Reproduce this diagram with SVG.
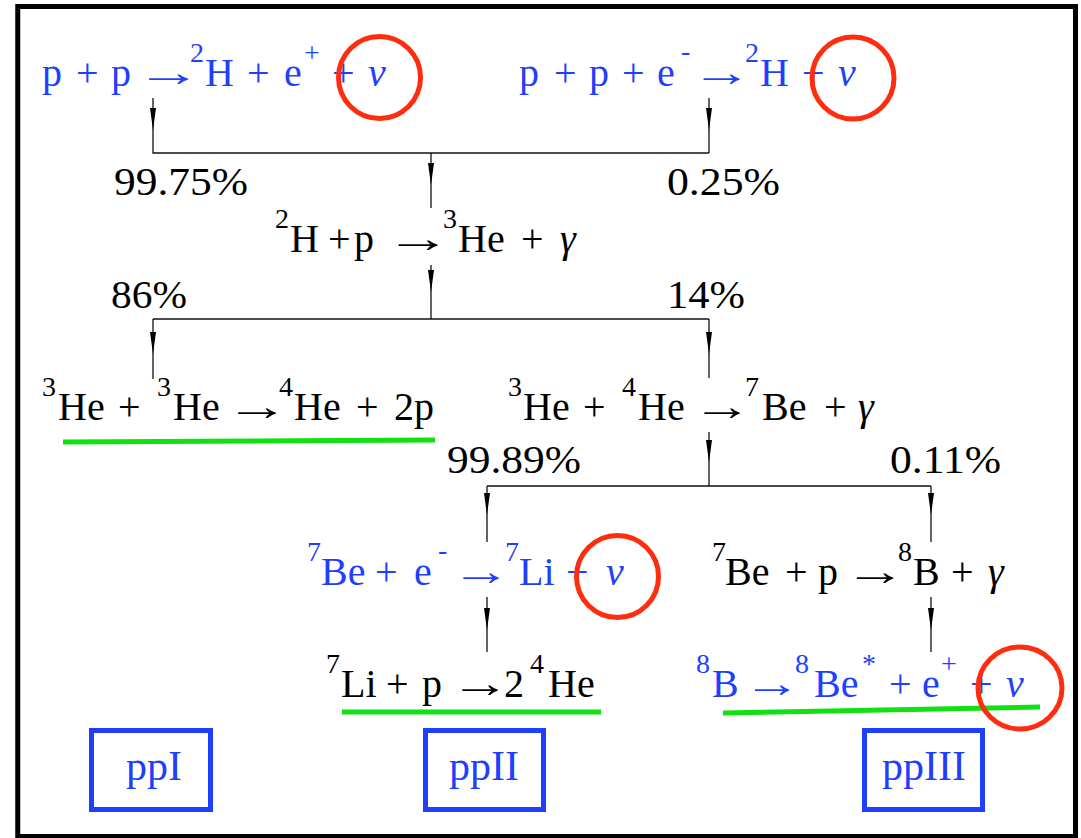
<svg xmlns="http://www.w3.org/2000/svg" width="1081" height="838" viewBox="0 0 1081 838">
<style>
.eq{font-family:"Liberation Serif","Times New Roman",serif;font-size:40px}
.s{font-size:28px}
.i{font-style:italic}
.b{fill:#1f3fff}
.k{fill:#000}
.ln{stroke:#111;stroke-width:1.3;fill:none}
.ah{fill:#000}
.nu{fill:none;stroke:#ff2d0f;stroke-width:5}
.ul{stroke:#11e011;stroke-width:5;fill:none}
.box{fill:none;stroke:#1f3fff;stroke-width:5}
.bt{font-family:"Liberation Serif","Times New Roman",serif;font-size:42px;fill:#1f3fff;text-anchor:middle}
</style>
<defs>
<path id="ah" d="M-3,-22 L3,-22 L0,0 Z"/>
</defs>
<rect x="17.75" y="6.5" width="1057.75" height="830" fill="#fff" stroke="#000" stroke-width="5"/>

<g id="connectors">
<path class="ln" d="M153,98 V153 H709 M709,98 V153 M431,153 V208 M431,265 V319 M153,319 H709 M153,319 V379 M709,319 V378 M709,432 V486 M487,486 H931 M487,486 V542 M931,486 V542 M487,597 V652 M931,597 V652"/>
<use href="#ah" class="ah" x="153" y="130"/>
<use href="#ah" class="ah" x="709" y="130"/>
<use href="#ah" class="ah" x="431" y="185"/>
<use href="#ah" class="ah" x="431" y="292"/>
<use href="#ah" class="ah" x="153" y="354"/>
<use href="#ah" class="ah" x="709" y="354"/>
<use href="#ah" class="ah" x="709" y="462"/>
<use href="#ah" class="ah" x="487" y="515"/>
<use href="#ah" class="ah" x="931" y="515"/>
<use href="#ah" class="ah" x="487" y="630"/>
<use href="#ah" class="ah" x="931" y="630"/>
</g>

<g id="pp-chain">
<text class="eq b"><tspan x="42" y="86">p</tspan><tspan x="76" y="86">+</tspan><tspan x="111" y="86">p</tspan><tspan x="135.5" y="86" textLength="66" lengthAdjust="spacingAndGlyphs">→</tspan><tspan class="s" x="190" y="62">2</tspan><tspan x="205" y="86">H</tspan><tspan x="247" y="86">+</tspan><tspan x="284" y="86">e</tspan><tspan class="s" x="304" y="62">+</tspan><tspan x="332" y="86">+</tspan><tspan class="i" x="368" y="86">ν</tspan></text>
<circle class="nu" cx="379.5" cy="77.5" r="41"/>
</g>

<g id="pep-chain">
<text class="eq b"><tspan x="519" y="86">p</tspan><tspan x="554" y="86">+</tspan><tspan x="589" y="86">p</tspan><tspan x="622" y="86">+</tspan><tspan x="657" y="86">e</tspan><tspan class="s" x="681" y="60">-</tspan><tspan x="691" y="86" textLength="61" lengthAdjust="spacingAndGlyphs">→</tspan><tspan class="s" x="745" y="62">2</tspan><tspan x="760" y="86">H</tspan><tspan x="802" y="86">+</tspan><tspan class="i" x="838" y="86">ν</tspan></text>
<circle class="nu" cx="853" cy="78" r="41"/>
</g>

<g id="branch-1">
<text class="eq k" x="114" y="195" textLength="134" lengthAdjust="spacingAndGlyphs">99.75%</text>
<text class="eq k" x="667" y="195" textLength="113" lengthAdjust="spacingAndGlyphs">0.25%</text>
</g>

<g id="h-p">
<text class="eq k"><tspan class="s" x="275" y="228">2</tspan><tspan x="290" y="252">H</tspan><tspan x="328" y="252">+</tspan><tspan x="354" y="252">p</tspan><tspan x="385" y="252" textLength="66" lengthAdjust="spacingAndGlyphs">→</tspan><tspan class="s" x="443" y="228">3</tspan><tspan x="458" y="252">He</tspan><tspan x="521" y="252">+</tspan><tspan class="i" x="560" y="252">γ</tspan></text>
</g>

<g id="branch-2">
<text class="eq k" x="111" y="308" textLength="76" lengthAdjust="spacingAndGlyphs">86%</text>
<text class="eq k" x="667" y="308" textLength="78" lengthAdjust="spacingAndGlyphs">14%</text>
</g>

<g id="he3-he3">
<text class="eq k"><tspan class="s" x="42" y="396">3</tspan><tspan x="58" y="420">He</tspan><tspan x="118" y="420">+</tspan><tspan class="s" x="157" y="396">3</tspan><tspan x="173" y="420">He</tspan><tspan x="225" y="420" textLength="64" lengthAdjust="spacingAndGlyphs">→</tspan><tspan class="s" x="279" y="396">4</tspan><tspan x="294" y="420">He</tspan><tspan x="356" y="420">+</tspan><tspan x="394" y="420">2p</tspan></text>
<line class="ul" x1="63" y1="442" x2="435" y2="440"/>
</g>

<g id="he3-he4">
<text class="eq k"><tspan class="s" x="508" y="396">3</tspan><tspan x="523" y="420">He</tspan><tspan x="583" y="420">+</tspan><tspan class="s" x="622" y="396">4</tspan><tspan x="638" y="420">He</tspan><tspan x="692" y="420" textLength="60" lengthAdjust="spacingAndGlyphs">→</tspan><tspan class="s" x="745" y="396">7</tspan><tspan x="762" y="420">Be</tspan><tspan x="824" y="420">+</tspan><tspan class="i" x="858" y="420">γ</tspan></text>
</g>

<g id="branch-3">
<text class="eq k" x="447" y="473" textLength="134" lengthAdjust="spacingAndGlyphs">99.89%</text>
<text class="eq k" x="890" y="473" textLength="111" lengthAdjust="spacingAndGlyphs">0.11%</text>
</g>

<g id="be7-ec">
<text class="eq b"><tspan class="s" x="307" y="561">7</tspan><tspan x="321" y="585">Be</tspan><tspan x="375" y="585">+</tspan><tspan x="414" y="585">e</tspan><tspan class="s" x="438" y="559">-</tspan><tspan x="451" y="585" textLength="60" lengthAdjust="spacingAndGlyphs">→</tspan><tspan class="s" x="505" y="561">7</tspan><tspan x="519" y="585">Li</tspan><tspan x="566" y="585">+</tspan><tspan class="i" x="606" y="585">ν</tspan></text>
<circle class="nu" cx="617.5" cy="576.5" r="41"/>
</g>

<g id="be7-p">
<text class="eq k"><tspan class="s" x="712" y="561">7</tspan><tspan x="725" y="585">Be</tspan><tspan x="785" y="585">+</tspan><tspan x="818" y="585">p</tspan><tspan x="844" y="585" textLength="62" lengthAdjust="spacingAndGlyphs">→</tspan><tspan class="s" x="898" y="561">8</tspan><tspan x="913" y="585">B</tspan><tspan x="951" y="585">+</tspan><tspan class="i" x="988" y="585">γ</tspan></text>
</g>

<g id="li7-p">
<text class="eq k"><tspan class="s" x="326" y="673">7</tspan><tspan x="341" y="697">Li</tspan><tspan x="386" y="697">+</tspan><tspan x="422" y="697">p</tspan><tspan x="450" y="697" textLength="60" lengthAdjust="spacingAndGlyphs">→</tspan><tspan x="504" y="697">2</tspan><tspan class="s" x="530" y="673">4</tspan><tspan x="548" y="697">He</tspan></text>
<line class="ul" x1="342" y1="712" x2="601" y2="712"/>
</g>

<g id="b8-decay">
<text class="eq b"><tspan class="s" x="696" y="673">8</tspan><tspan x="712" y="697">B</tspan><tspan x="743" y="697" textLength="58" lengthAdjust="spacingAndGlyphs">→</tspan><tspan class="s" x="795" y="673">8</tspan><tspan x="814" y="697">Be</tspan><tspan class="s" x="862" y="673">*</tspan><tspan x="889" y="697">+</tspan><tspan x="922" y="697">e</tspan><tspan class="s" x="941" y="673">+</tspan><tspan x="970" y="697">+</tspan><tspan class="i" x="1006" y="697">ν</tspan></text>
<line class="ul" x1="723" y1="713" x2="1040" y2="707"/>
<ellipse class="nu" cx="1020" cy="688" rx="42" ry="41"/>
</g>

<g id="ppI">
<rect class="box" x="91.5" y="730.5" width="119" height="79"/>
<text class="bt" x="154" y="780">ppI</text>
</g>
<g id="ppII">
<rect class="box" x="425.5" y="730.5" width="118" height="79"/>
<text class="bt" x="484" y="780">ppII</text>
</g>
<g id="ppIII">
<rect class="box" x="864.5" y="730.5" width="118" height="79"/>
<text class="bt" x="924" y="780">ppIII</text>
</g>
</svg>
